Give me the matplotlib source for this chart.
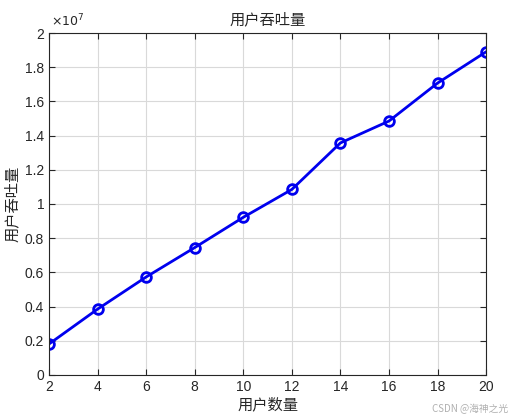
import matplotlib.pyplot as plt
from matplotlib.ticker import FuncFormatter, MultipleLocator

plt.rcParams['font.family'] = ['Liberation Sans', 'Noto Sans CJK SC', 'DejaVu Sans']

users = [2, 4, 6, 8, 10, 12, 14, 16, 18, 20]
throughput = [0.181e7, 0.385e7, 0.573e7, 0.745e7, 0.922e7, 1.085e7,
              1.357e7, 1.485e7, 1.707e7, 1.890e7]

fig = plt.figure(figsize=(5.16, 4.18), dpi=100)
ax = fig.add_axes([0.095, 0.103, 0.847, 0.818])

ax.plot(users, throughput, color='#0000ee', lw=2, marker='o', ms=7,
        mfc='none', mec='#0000ee', mew=2)

ax.set_xlim(2, 20)
ax.set_ylim(0, 2e7)
ax.xaxis.set_major_locator(MultipleLocator(2))
ax.yaxis.set_major_locator(MultipleLocator(0.2e7))
ax.yaxis.set_major_formatter(FuncFormatter(lambda v, p: f"{v/1e7:g}"))
ax.grid(True, color='#d9d9d9', lw=0.8)
ax.tick_params(direction='in', top=True, right=True, labelsize=10,
               length=4, colors='#262626', labelcolor='#262626')
for s in ax.spines.values():
    s.set_color('#262626')
    s.set_linewidth(0.8)

cjk = ['Noto Sans CJK SC', 'DejaVu Sans']
ax.set_title('用户吞吐量', family=cjk, fontsize=11, pad=6, color='#262626')
ax.set_xlabel('用户数量', family=cjk, fontsize=11, labelpad=2, color='#262626')
ax.set_ylabel('用户吞吐量', family=cjk, fontsize=11, labelpad=3, color='#262626')
ax.text(0.005, 1.012, r'$\times10^{7}$', transform=ax.transAxes,
        fontsize=9, color='#262626', va='bottom', ha='left')

fig.text(0.985, 0.01, 'CSDN @海神之光', family=cjk, fontsize=7,
         color='#b0b0b0', ha='right', va='bottom')

fig.savefig('out.png', dpi=100)
